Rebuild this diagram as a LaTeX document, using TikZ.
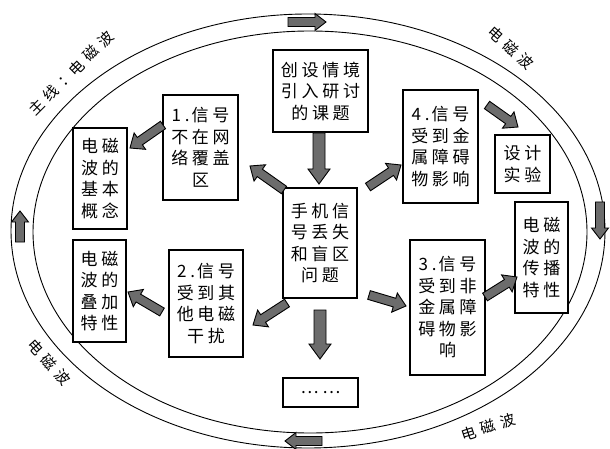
\documentclass[tikz,border=0pt]{standalone}
\usepackage{fontspec}
\newfontfamily\cjk{Noto Sans CJK SC}[LetterSpace=22]
\newfontfamily\cjkl{Noto Sans CJK SC}
\usetikzlibrary{calc}
\definecolor{arrowgray}{RGB}{108,108,108}
\newcommand\gp{\kern5.5pt}
\tikzset{
  box/.style={draw=black, line width=1.2pt, fill=white, align=center, inner sep=0pt,
    font=\cjk\fontsize{17}{21.5}\selectfont},
  lab/.style={font=\cjkl\fontsize{15}{20}\selectfont, inner sep=0pt},
  blockarr/.style={draw=black, line width=0.9pt, fill=arrowgray, line join=miter},
  band/.style={draw=black, line width=0.9pt}
}
% half shaft, half head, head length, from, to
\newcommand\barrow[5]{%
  \draw[blockarr] ($(#4)!#1!90:(#5)$)
   -- ($($(#5)!#3!(#4)$)!#1!90:(#5)$)
   -- ($($(#5)!#3!(#4)$)!#2!90:(#5)$)
   -- (#5)
   -- ($($(#5)!#3!(#4)$)!#2!-90:(#5)$)
   -- ($($(#5)!#3!(#4)$)!#1!-90:(#5)$)
   -- ($(#4)!#1!-90:(#5)$) -- cycle;}
\begin{document}
\begin{tikzpicture}[x=1pt,y=-1pt]
\useasboundingbox (0,0) rectangle (610,449);
\fill[white] (0,0) rectangle (610,449);
% band
\draw[band] (308,231) ellipse [x radius=297, y radius=217];
\draw[band] (310,232) ellipse [x radius=277, y radius=201];
% band arrows
\coordinate (ta) at (288,22); \coordinate (tb) at (326,22);
\coordinate (ra) at (600,202); \coordinate (rb) at (600,239);
\coordinate (ba) at (322,441); \coordinate (bb) at (285,441);
\coordinate (la) at (20,242); \coordinate (lb) at (20,211);
\barrow{4.5pt}{8.5pt}{11pt}{ta}{tb}
\barrow{4.5pt}{8.5pt}{11pt}{ra}{rb}
\barrow{4.5pt}{8.5pt}{11pt}{ba}{bb}
\barrow{4.5pt}{8.5pt}{11pt}{la}{lb}
% band labels
\node[lab, rotate=45] (l1) at (71,73) {主\gp 线\gp ：电\gp 磁\gp 波};
\node[lab, rotate=-42] (l2) at (511,48) {电\gp 磁\gp 波};
\node[lab, rotate=-48] (l3) at (49,362) {电\gp 磁\gp 波};
\node[lab, rotate=18] (l4) at (488,427) {电\gp 磁\gp 波};
% boxes
\node[box, minimum width=95, minimum height=82] (top) at (320.5,91) {创设情境\\引入研讨\\的课题};
\node[box, minimum width=75, minimum height=105] (b1) at (200.5,147.5) {1.\kern2pt 信号\\不在网\\络覆盖\\区};
\node[box, minimum width=54, minimum height=101] (basic) at (100,178.5) {电磁\\波的\\基本\\概念};
\node[box, minimum width=53, minimum height=102] (super) at (99.5,291) {电磁\\波的\\叠加\\特性};
\node[box, minimum width=74, minimum height=107] (b2) at (206,303.5) {2.\kern2pt 信号\\受到其\\他电磁\\干扰};
\node[box, minimum width=74, minimum height=110] (ctr) at (320,243) {手机信\\号丢失\\和盲区\\问题};
\node[box, minimum width=75, minimum height=29] (dots) at (320.5,392.5) {……};
\node[box, minimum width=75, minimum height=113] (b4) at (440.5,146.5) {4.\kern2pt 信号\\受到金\\属障碍\\物影响};
\node[box, minimum width=55, minimum height=58] (design) at (522.5,164) {设计\\实验};
\node[box, minimum width=53, minimum height=111] (prop) at (541.5,257.5) {电磁\\波的\\传播\\特性};
\node[box, minimum width=75, minimum height=135] (b3) at (447.5,307.5) {3.\kern2pt 信号\\受到非\\金属障\\碍物影\\响};
% arrow ends
\coordinate (a1) at (319,133); \coordinate (a1e) at (319,184);
\coordinate (a2) at (284,190); \coordinate (a2e) at (250,166);
\coordinate (a3) at (163,125); \coordinate (a3e) at (130,148);
\coordinate (a4) at (287,303); \coordinate (a4e) at (253,325);
\coordinate (a5) at (162,312); \coordinate (a5e) at (128,292);
\coordinate (a6) at (320,310); \coordinate (a6e) at (320,359);
\coordinate (a7) at (369,295); \coordinate (a7e) at (406,306);
\coordinate (a8) at (485,297); \coordinate (a8e) at (517,277);
\coordinate (a9) at (368,187); \coordinate (a9e) at (401,165);
\coordinate (a10) at (487,105); \coordinate (a10e) at (518,127);
\barrow{6pt}{11pt}{15pt}{a1}{a1e}
\barrow{4.5pt}{10pt}{12pt}{a2}{a2e}
\barrow{4.5pt}{10pt}{12pt}{a3}{a3e}
\barrow{4.5pt}{10pt}{12pt}{a4}{a4e}
\barrow{4.5pt}{10pt}{12pt}{a5}{a5e}
\barrow{6pt}{11pt}{15pt}{a6}{a6e}
\barrow{4.5pt}{10pt}{12pt}{a7}{a7e}
\barrow{4.5pt}{10pt}{12pt}{a8}{a8e}
\barrow{4.5pt}{10pt}{12pt}{a9}{a9e}
\barrow{4.5pt}{10pt}{12pt}{a10}{a10e}
\end{tikzpicture}
\end{document}
